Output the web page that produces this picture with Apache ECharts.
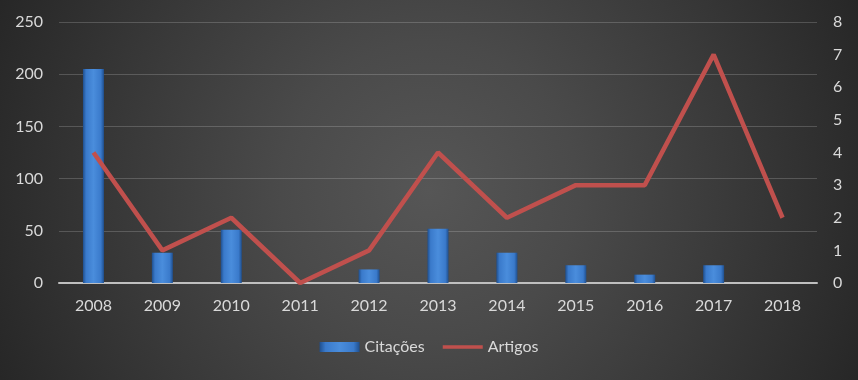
<!DOCTYPE html>
<html><head><meta charset="utf-8">
<script src="https://cdn.jsdelivr.net/npm/echarts@6/dist/echarts.min.js"></script>
<style>html,body{margin:0;padding:0;background:#2a2a2a}#c{width:858px;height:380px}</style>
</head><body><div id="c"></div>
<script>
const categories = ['2008','2009','2010','2011','2012','2013','2014','2015','2016','2017','2018'];
const citacoes = [205, 29, 51, 0, 13, 52, 29, 17, 8, 17, 0];
const artigos = [4, 1, 2, 0, 1, 4, 2, 3, 3, 7, 2];
const leftTicks = [0, 50, 100, 150, 200, 250];
const rightTicks = [0, 1, 2, 3, 4, 5, 6, 7, 8];

const font = 'Lato, "Open Sans", sans-serif';
const chart = echarts.init(document.getElementById('c'));
chart.setOption({
  animation: false,
  backgroundColor: {
    type: 'radial', x: 0.5, y: 0.5, r: 1.3,
    colorStops: [{offset: 0, color: '#565656'}, {offset: 0.3, color: '#4a4a4a'}, {offset: 0.6, color: '#3a3a3a'}, {offset: 1, color: '#242424'}]
  },
  textStyle: {fontFamily: font},
  grid: {left: 59, right: 41, top: 22, bottom: 97},
  legend: {
    bottom: 20, left: 'center', itemWidth: 40, itemHeight: 10, itemGap: 18,
    textStyle: {color: '#d9d9d9', fontSize: 16, fontFamily: font},
    data: [{name: 'Citações', icon: 'rect'},
           {name: 'Artigos', icon: 'path://M0,0 L44,0 L44,4 L0,4 Z', itemStyle: {color: '#c0504d'}}]
  },
  xAxis: {
    type: 'category', data: categories,
    axisLine: {lineStyle: {color: '#bfbfbf', width: 2}},
    axisTick: {show: false},
    axisLabel: {color: '#d9d9d9', fontSize: 16, margin: 15}
  },
  yAxis: [{
    type: 'value', min: leftTicks[0], max: leftTicks[leftTicks.length-1], interval: 50,
    axisLine: {show: false}, axisTick: {show: false},
    axisLabel: {color: '#d9d9d9', fontSize: 16, margin: 16},
    splitLine: {lineStyle: {color: 'rgba(255,255,255,0.18)', width: 1}}
  }, {
    type: 'value', min: rightTicks[0], max: rightTicks[rightTicks.length-1], interval: 1,
    axisLine: {show: false}, axisTick: {show: false},
    axisLabel: {color: '#d9d9d9', fontSize: 16, margin: 16},
    splitLine: {show: false}
  }],
  series: [{
    name: 'Citações', type: 'bar', data: citacoes, barWidth: 21, yAxisIndex: 0,
    itemStyle: {
      color: {type: 'linear', x: 0, y: 0, x2: 1, y2: 0, colorStops: [
        {offset: 0, color: '#1f4f8e'}, {offset: 0.15, color: '#3a7acb'},
        {offset: 0.5, color: '#4a8ddc'}, {offset: 0.85, color: '#3a7acb'}, {offset: 1, color: '#1f4f8e'}]},
      borderWidth: 0
    }
  }, {
    name: 'Artigos', type: 'line', data: artigos, yAxisIndex: 1,
    showSymbol: false, symbol: 'none',
    lineStyle: {color: '#c0504d', width: 4.5},
    itemStyle: {color: '#c0504d'}
  }]
});
</script></body></html>
